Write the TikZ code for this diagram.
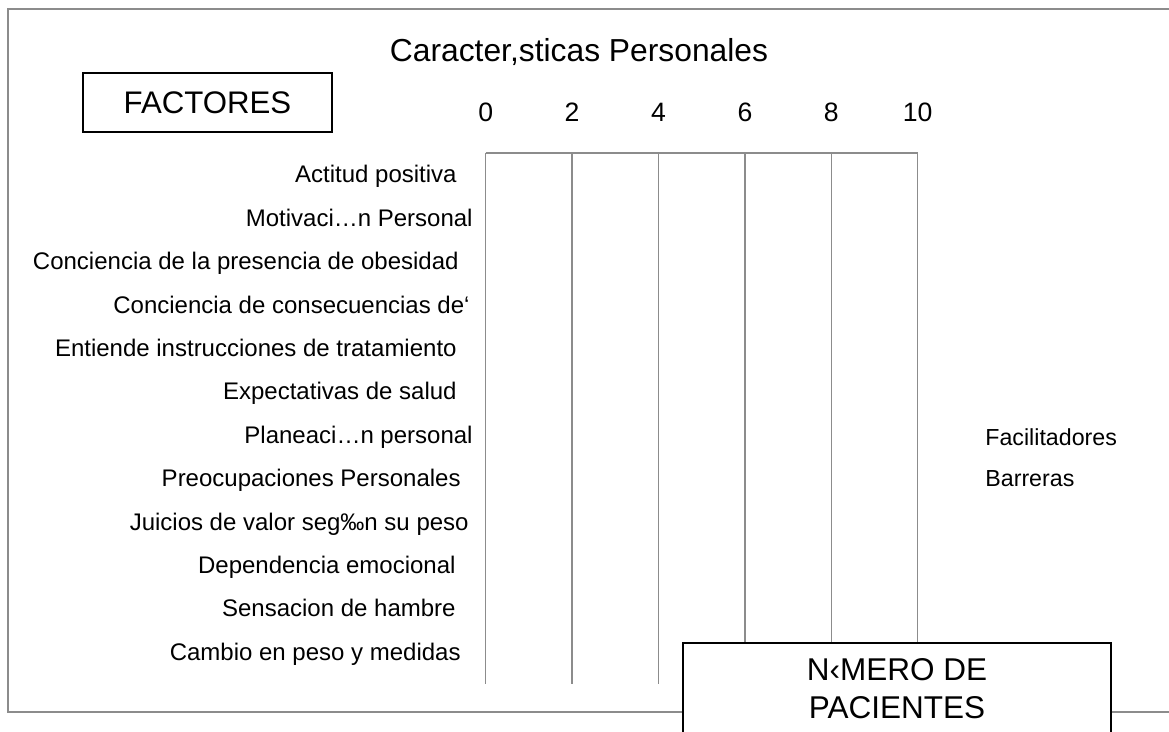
\documentclass[tikz,border=0pt]{standalone}
\usepackage{fontspec}
\setmainfont{Liberation Sans}
\usetikzlibrary{positioning}
\tikzset{
  framegray/.style={draw=black!45, line width=1pt},
  gridline/.style={draw=black!45, line width=0.75pt},
  labelbox/.style={draw=black, line width=1pt, fill=white, inner sep=0pt},
  rowlabel/.style={anchor=base east, inner sep=0pt, font=\fontsize{12}{14}\selectfont},
  scalenum/.style={anchor=base, inner sep=0pt, font=\fontsize{13.3}{15}\selectfont},
  legendtext/.style={anchor=base west, inner sep=0pt, font=\fontsize{11.6}{14}\selectfont},
}

\begin{document}
\begin{tikzpicture}[x=0.5pt,y=-0.5pt]
  \useasboundingbox (0,0) rectangle (1169,732);
  % outer frame, open on the right
  \draw[framegray] (1169,9) -- (8,9) -- (8,712) -- (1169,712);

  \node[anchor=base, inner sep=0pt, font=\fontsize{15.9}{18}\selectfont] (titulo) at (579,62) {Caracter,sticas Personales};
  \node[labelbox, minimum width=124.5pt, minimum height=29.5pt, font=\fontsize{15.6}{18}\selectfont] (factores) at (207.5,102.5) {FACTORES};

  % scale and grid
  \foreach \i/\v in {0/0,1/2,2/4,3/6,4/8,5/10} {
    \coordinate (top\i) at ({485.7+86.4*\i},153);
    \coordinate (bot\i) at ({485.7+86.4*\i},684);
    \draw[gridline] (top\i) -- (bot\i);
    \node[scalenum] (num\i) at ({485.7+86.4*\i},121.7) {\v};
  }
  \draw[gridline] (top0) -- (top5);

  % factors
  \foreach \t/\x [count=\r from 0] in {
      Actitud positiva/457,
      Motivaci…n Personal/473,
      Conciencia de la presencia de obesidad/459,
      Conciencia de consecuencias de‘/470,
      Entiende instrucciones de tratamiento/457,
      Expectativas de salud/457,
      Planeaci…n personal/473,
      Preocupaciones Personales/461,
      Juicios de valor seg‰n su peso/469,
      Dependencia emocional/456,
      Sensacion de hambre/456,
      Cambio en peso y medidas/461} {
    \node[rowlabel] (fila\r) at (\x,{183+43.4*\r}) {\t};
  }

  \node[legendtext] (facil) at (985,446) {Facilitadores};
  \node[legendtext] (barr) at (985,487) {Barreras};

  \node[labelbox, anchor=north, minimum width=214pt, inner ysep=8pt, align=center,
        font=\fontsize{15.75}{19}\selectfont] (pacientes) at (897,642) {N‹MERO DE\\PACIENTES};
\end{tikzpicture}
\end{document}
